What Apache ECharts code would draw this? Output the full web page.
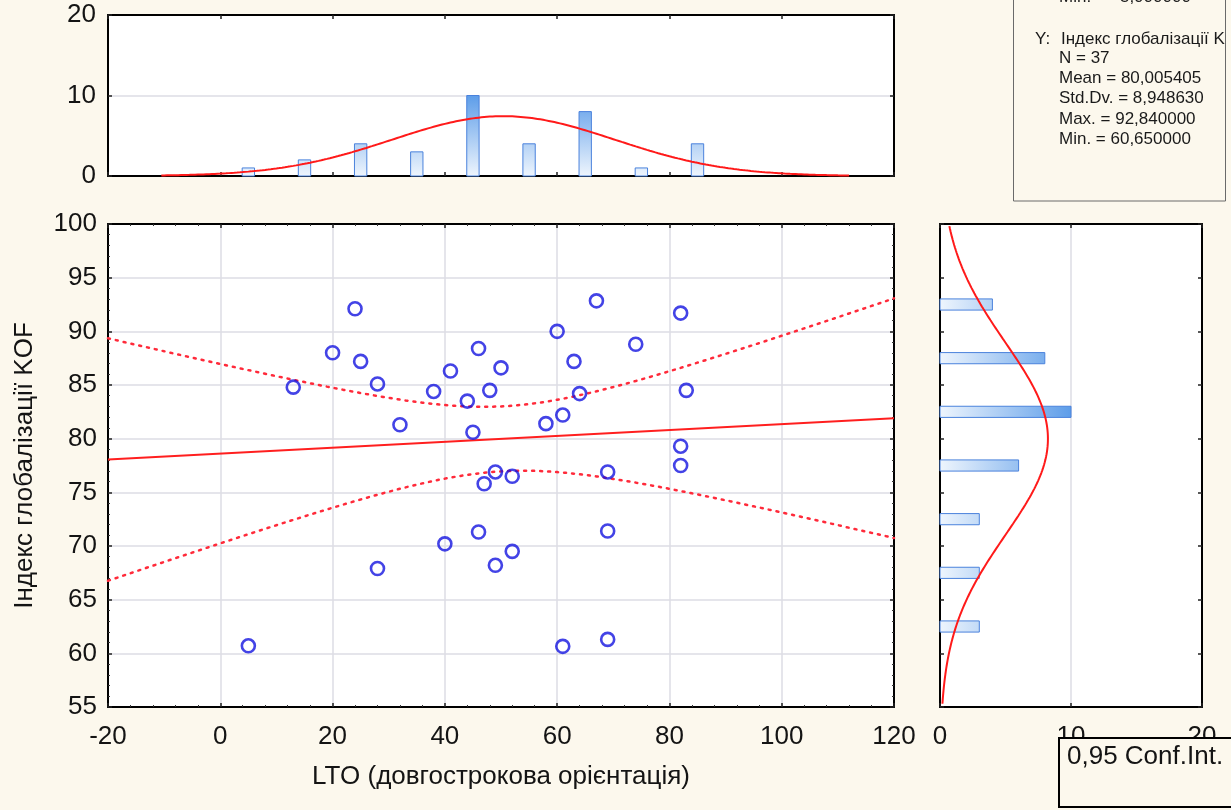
<!DOCTYPE html>
<html><head><meta charset="utf-8">
<script src="https://cdn.jsdelivr.net/npm/echarts@6/dist/echarts.min.js"></script>
<style>html,body{margin:0;padding:0;background:#fcf8ed;}#c{width:1231px;height:810px;}</style>
</head><body><div id="c"></div>
<script>
// ---- data ----
const ltoValues = [5,13,20,24,25,28,28,32,38,40,41,44,45,46,46,47,48,49,49,50,52,52,58,60,61,61,63,64,67,69,69,69,74,82,82,82,83];
const kofValues = [60.7,84.8,88.0,92.1,87.2,85.1,67.9,81.3,84.4,70.2,86.3,83.5,80.6,88.4,71.3,75.8,84.5,76.9,68.2,86.6,76.5,69.5,81.4,90.0,82.2,60.65,87.2,84.2,92.84,76.9,71.4,61.3,88.8,91.7,79.3,77.5,84.5];
const ltoBinCenters = [5,15,25,35,45,55,65,75,85];
const ltoBinCounts  = [1,2,4,3,10,4,8,1,4];
const kofBinCenters = [62.5,67.5,72.5,77.5,82.5,87.5,92.5];
const kofBinCounts  = [3,3,3,6,10,8,4];
const xAxisTitle = 'LTO (довгострокова орієнтація)';
const yAxisTitle = 'Індекс глобалізації KOF';
const statsLines = ['N = 37','Mean = 80,005405','Std.Dv. = 8,948630','Max. = 92,840000','Min. = 60,650000'];
const statsHeader = 'Індекс глобалізації KOF';
const statsTopLine = 'Min.   = 5,000000';
const ciLabel = '0,95 Conf.Int.';

// ---- derived statistics ----
const n = ltoValues.length;
const mean = a => a.reduce((s,v)=>s+v,0)/a.length;
const mx = mean(ltoValues), my = mean(kofValues);
let sxx=0, sxy=0, syy=0;
for (let i=0;i<n;i++){ sxx+=(ltoValues[i]-mx)**2; sxy+=(ltoValues[i]-mx)*(kofValues[i]-my); syy+=(kofValues[i]-my)**2; }
const slope = sxy/sxx, icpt = my - slope*mx;
let sse=0; for (let i=0;i<n;i++){ const r=kofValues[i]-(icpt+slope*ltoValues[i]); sse+=r*r; }
const se = Math.sqrt(sse/(n-2)), tcrit = 2.0301;
const sdx = Math.sqrt(sxx/(n-1)), sdy = Math.sqrt(syy/(n-1));
const regLine = [[-20, icpt+slope*-20],[120, icpt+slope*120]];
const ciUp=[], ciLo=[];
for (let x=-20;x<=120;x+=1){ const h=tcrit*se*Math.sqrt(1/n+(x-mx)**2/sxx); const yh=icpt+slope*x; ciUp.push([x,yh+h]); ciLo.push([x,yh-h]); }
const pdf=(v,m,s)=>Math.exp(-0.5*((v-m)/s)**2)/(s*Math.sqrt(2*Math.PI));
const xCurve=[]; for (let x=-10.5;x<=112;x+=0.5) xCurve.push([x, n*10*pdf(x,mx,sdx)]);
const yCurve=[]; for (let y=55.3;y<=100;y+=0.25) yCurve.push([n*5*pdf(y,my,sdy), y]);

// ---- chart ----
const FONT = 'Liberation Sans, Arial, sans-serif';
const BG = '#fcf8ed';
const FS = 26;
const lbl = (o)=>Object.assign({show:true, fontSize:FS, color:'#141414', fontFamily:FONT}, o||{});
function ax(o){
  return Object.assign({type:'value', axisLine:{show:true,onZero:false,lineStyle:{color:'#000',width:2}},
    axisTick:{show:true,inside:true,length:4,lineStyle:{color:'#222',width:1.5}},
    axisLabel:{show:false}, splitLine:{show:false}}, o);
}
const gridLine = {show:true, lineStyle:{color:'#dcdde5', width:1.5}};
const minorT = (k)=>({show:true, splitNumber:k, length:2, lineStyle:{color:'#333', width:1}});

function barStops(){ return [{offset:0,color:'#eef5fd'},{offset:1,color:'#5d9de9'}]; }

const G = {show:true, backgroundColor:'#fff', borderWidth:0, containLabel:false, outerBoundsMode:'none'};
const chart = echarts.init(document.getElementById('c'), null, {renderer:'canvas'});
chart.setOption({
  backgroundColor: BG,
  animation:false,
  grid:[
    Object.assign({left:108, top:15, width:786, height:161}, G),
    Object.assign({left:108, top:224, width:786, height:483}, G),
    Object.assign({left:940, top:224, width:262, height:483}, G)
  ],
  xAxis:[
    ax({gridIndex:0, min:-20, max:120, interval:20, position:'bottom'}),
    ax({gridIndex:0, min:-20, max:120, interval:20, position:'top'}),
    ax({gridIndex:1, min:-20, max:120, interval:20, position:'bottom', axisLabel:lbl({margin:17}), splitLine:gridLine, minorTick:minorT(5),
        name:xAxisTitle, nameLocation:'middle', nameGap:57, nameTextStyle:{fontSize:FS, color:'#141414', fontFamily:FONT}}),
    ax({gridIndex:1, min:-20, max:120, interval:20, position:'top', minorTick:minorT(5)}),
    ax({gridIndex:2, min:0, max:20, interval:10, position:'bottom', axisLabel:lbl({margin:17}), splitLine:gridLine}),
    ax({gridIndex:2, min:0, max:20, interval:10, position:'top'})
  ],
  yAxis:[
    ax({gridIndex:0, min:0, max:20, interval:10, position:'left', axisLabel:lbl({margin:12}), splitLine:gridLine}),
    ax({gridIndex:0, min:0, max:20, interval:10, position:'right'}),
    ax({gridIndex:1, min:55, max:100, interval:5, position:'left', axisLabel:lbl({margin:11}), splitLine:gridLine, minorTick:minorT(5),
        name:yAxisTitle, nameLocation:'middle', nameGap:70, nameRotate:90, nameTextStyle:{fontSize:FS, color:'#141414', fontFamily:FONT}}),
    ax({gridIndex:1, min:55, max:100, interval:5, position:'right', minorTick:minorT(5)}),
    ax({gridIndex:2, min:55, max:100, interval:5, position:'left'}),
    ax({gridIndex:2, min:55, max:100, interval:5, position:'right'})
  ],
  series:[
    { type:'custom', xAxisIndex:0, yAxisIndex:0, z:3,
      data: ltoBinCenters.map((c,i)=>[c, ltoBinCounts[i]]),
      renderItem:(p,api)=>{
        const c=api.value(0), v=api.value(1);
        const a=api.coord([c-1.1, v]), b=api.coord([c+1.1, 0]);
        const g0=api.coord([0,0]), g1=api.coord([0,10]);
        return {type:'rect', shape:{x:a[0], y:a[1], width:b[0]-a[0], height:b[1]-a[1]},
          style:{fill:{type:'linear', x:0, y:g0[1], x2:0, y2:g1[1], global:true, colorStops:barStops()}, stroke:'#4a82dc', lineWidth:1}};
      }},
    { type:'line', xAxisIndex:0, yAxisIndex:0, data:xCurve, showSymbol:false, smooth:false, z:4,
      lineStyle:{color:'#ff1a1a', width:2} },
    { type:'custom', xAxisIndex:4, yAxisIndex:4, z:3,
      data: kofBinCenters.map((c,i)=>[kofBinCounts[i], c]),
      renderItem:(p,api)=>{
        const v=api.value(0), c=api.value(1);
        const a=api.coord([0, c+0.52]), b=api.coord([v, c-0.52]);
        const g0=api.coord([0,55]), g1=api.coord([10,55]);
        return {type:'rect', shape:{x:a[0], y:a[1], width:b[0]-a[0], height:b[1]-a[1]},
          style:{fill:{type:'linear', x:g0[0], y:0, x2:g1[0], y2:0, global:true, colorStops:barStops()}, stroke:'#4a82dc', lineWidth:1}};
      }},
    { type:'line', xAxisIndex:4, yAxisIndex:4, data:yCurve, showSymbol:false, z:4,
      lineStyle:{color:'#ff1a1a', width:2} },
    { type:'line', xAxisIndex:2, yAxisIndex:2, data:regLine, showSymbol:false, z:4,
      lineStyle:{color:'#ff1f1f', width:2} },
    { type:'line', xAxisIndex:2, yAxisIndex:2, data:ciUp, showSymbol:false, z:4,
      lineStyle:{color:'#ff2a3a', width:2.5, type:[2,6], cap:'round'} },
    { type:'line', xAxisIndex:2, yAxisIndex:2, data:ciLo, showSymbol:false, z:4,
      lineStyle:{color:'#ff2a3a', width:2.5, type:[2,6], cap:'round'} },
    { type:'scatter', xAxisIndex:2, yAxisIndex:2, z:5,
      data: ltoValues.map((x,i)=>[x, kofValues[i]]),
      symbol:'circle', symbolSize:13,
      itemStyle:{color:'rgba(255,255,255,0)', borderColor:'#1414e0', borderWidth:2.6} }
  ],
  graphic:[
    {type:'rect', z:100, shape:{x:1013.5, y:-10, width:212, height:211}, style:{fill:BG, stroke:'#6a6a6a', lineWidth:1}},
    {type:'text', z:101, x:1059, y:-3, style:{text:statsTopLine, font:'17px '+FONT, fill:'#1a1a1a', verticalAlign:'middle'}},
    {type:'text', z:101, x:1035, y:39, style:{text:'Y:', font:'17px '+FONT, fill:'#1a1a1a', verticalAlign:'middle'}},
    {type:'text', z:101, x:1061, y:39, style:{text:statsHeader, font:'17px '+FONT, fill:'#1a1a1a', verticalAlign:'middle'}},
    ...statsLines.map((t,i)=>({type:'text', z:101, x:1059, y:58+i*20.3, style:{text:t, font:'17px '+FONT, fill:'#1a1a1a', verticalAlign:'middle'}})),
    {type:'rect', z:102, shape:{x:1226, y:0, width:10, height:205}, style:{fill:BG}},
    {type:'line', z:103, shape:{x1:1225.5, y1:0, x2:1225.5, y2:201}, style:{stroke:'#6a6a6a', lineWidth:1}},
    {type:'rect', z:100, shape:{x:1059, y:738, width:200, height:69}, style:{fill:BG, stroke:'#000', lineWidth:2}},
    {type:'text', z:101, x:1067, y:757, style:{text:ciLabel, font:'26px '+FONT, fill:'#141414', verticalAlign:'middle'}}
  ]
});
</script></body></html>
